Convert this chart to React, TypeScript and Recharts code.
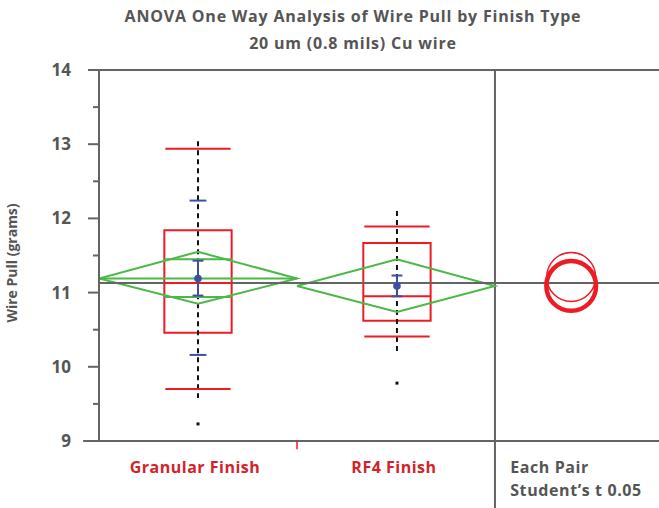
import {
  ComposedChart,
  XAxis,
  YAxis,
  Line,
  Scatter,
  ReferenceLine,
  ReferenceArea,
} from 'recharts';

// ---- data ----
const groups = ['Granular Finish', 'RF4 Finish'];
const groupX = [1, 3.01];
const groupBounds = [
  [0, 2],
  [2, 4],
];

const pointsTop = [13.04, 12.1];
const pointsBottom = [9.58, 10.17];
const outliers = [9.23, 9.78];
const whiskerHigh = [12.94, 11.89];
const q3 = [11.84, 11.67];
const median = [11.13, 10.95];
const q1 = [10.46, 10.62];
const whiskerLow = [9.7, 10.41];

const means = [11.19, 11.09];
const showMeanLine = [true, false];
const ciUpper = [11.55, 11.45];
const ciLower = [10.85, 10.74];
const overlapHigh = [11.45, null];
const overlapLow = [10.94, null];
const stdErrHigh = [11.43, 11.23];
const stdErrLow = [10.96, 10.95];
const stdDevHigh = [12.24, null];
const stdDevLow = [10.16, null];

const grandMean = 11.13;
const circleCenters = [11.21, 11.09];
const circleRadii = [0.33, 0.335];
const circleWidths = [1.5, 4.5];

const yTicks = [9, 9.5, 10, 10.5, 11, 11.5, 12, 12.5, 13, 13.5, 14];
const xLabelTicks = [1, 3.01, 4.77];

// ---- layout ----
const W = 659;
const H = 508;
const TOP = 70;
const Y_AXIS_W = 99;
const X_AXIS_H = 67;
const Y_MIN = 9;
const Y_MAX = 14;
const X_MAX = 5.657; // 0..4 groups, 4..5.657 comparison circles
const CIRCLE_X = 4.77;
const PX_PER_Y = (H - TOP - X_AXIS_H) / (Y_MAX - Y_MIN);

const RED = '#ed1c24';
const GREEN = '#4cb848';
const BLUE = '#3d4f9f';
const GRAY = '#646464';
const TEXT = '#555555';
const LABEL_RED = '#d2232a';
const FONT = '"Open Sans", Lato, sans-serif';

function YTick({ x, y, payload }: any) {
  const v = payload.value;
  const major = Number.isInteger(v);
  return (
    <g>
      <line x1={x - (major ? 11 : 6)} x2={x} y1={y} y2={y} stroke={GRAY} strokeWidth={2} />
      {major && (
        <text x={x - 28} y={y} dy={6} textAnchor="end" fill={TEXT} fontFamily={FONT} fontWeight={700} fontSize={17}>
          {v}
        </text>
      )}
    </g>
  );
}

function XTick({ x, y, index }: any) {
  if (index < groups.length) {
    return (
      <text
        x={x - 3}
        y={y + 32}
        textAnchor="middle"
        fill={LABEL_RED}
        fontFamily={FONT}
        fontWeight={700}
        fontSize={16}
        letterSpacing={0.5}
      >
        {groups[index]}
      </text>
    );
  }
  return (
    <text
      x={x - 61}
      y={y + 32}
      textAnchor="start"
      fill={TEXT}
      fontFamily={FONT}
      fontWeight={700}
      fontSize={16}
      letterSpacing={0.6}
    >
      <tspan x={x - 61}>Each Pair</tspan>
      <tspan x={x - 61} dy={23}>Student’s t 0.05</tspan>
    </text>
  );
}

function diamond(i: number) {
  const [lo, hi] = groupBounds[i];
  return [
    { x: lo, y: means[i] },
    { x: groupX[i], y: ciUpper[i] },
    { x: hi, y: means[i] },
    { x: groupX[i], y: ciLower[i] },
    { x: lo, y: means[i] },
  ];
}

const seg = (x1: number, y1: number, x2: number, y2: number) => [
  { x: x1, y: y1 },
  { x: x2, y: y2 },
];

export default function App() {
  const circleShape = (i: number) => (p: any) => (
    <circle
      cx={p.cx}
      cy={p.cy}
      r={circleRadii[i] * PX_PER_Y}
      fill="none"
      stroke={RED}
      strokeWidth={circleWidths[i]}
    />
  );

  return (
    <div style={{ position: 'absolute', left: 0, top: 0, width: W, height: H, background: '#fff' }}>
      <div
        style={{
          position: 'absolute',
          left: 0,
          width: 706,
          top: 3,
          textAlign: 'center',
          fontFamily: FONT,
          fontWeight: 700,
          fontSize: 16,
          letterSpacing: 0.8,
          color: TEXT,
          lineHeight: '27px',
        }}
      >
        ANOVA One Way Analysis of Wire Pull by Finish Type
        <br />
        20 um (0.8 mils) Cu wire
      </div>
      <div
        style={{
          position: 'absolute',
          left: 11,
          top: 263,
          transform: 'translate(-50%, -50%) rotate(-90deg)',
          whiteSpace: 'nowrap',
          fontFamily: FONT,
          fontWeight: 700,
          fontSize: 14,
          color: TEXT,
        }}
      >
        Wire Pull (grams)
      </div>
      <ComposedChart width={W} height={H} margin={{ top: TOP, right: 0, bottom: 0, left: 0 }}>
        <XAxis
          type="number"
          dataKey="x"
          domain={[0, X_MAX]}
          ticks={xLabelTicks}
          tick={<XTick />}
          tickLine={false}
          axisLine={false}
          tickSize={0}
          tickMargin={0}
          height={X_AXIS_H}
          allowDataOverflow
        />
        <YAxis
          type="number"
          dataKey="y"
          domain={[Y_MIN, Y_MAX]}
          ticks={yTicks}
          tick={<YTick />}
          tickLine={false}
          tickSize={0}
          tickMargin={0}
          width={Y_AXIS_W}
          axisLine={{ stroke: GRAY, strokeWidth: 2 }}
          interval={0}
          allowDataOverflow
        />

        {/* frame */}
        <ReferenceLine segment={seg(-0.11, Y_MAX, X_MAX, Y_MAX)} stroke={GRAY} strokeWidth={2} ifOverflow="visible" />
        <ReferenceLine segment={seg(-0.16, Y_MIN, X_MAX, Y_MIN)} stroke={GRAY} strokeWidth={2} ifOverflow="visible" />
        <ReferenceLine segment={seg(4, Y_MAX, 4, 8.09)} stroke={GRAY} strokeWidth={2} ifOverflow="visible" />
        <ReferenceLine segment={seg(2, Y_MIN, 2, 8.89)} stroke={RED} strokeWidth={1.5} ifOverflow="visible" />

        {/* raw points column */}
        {groupX.map((gx, i) => (
          <ReferenceLine
            key={`pts${i}`}
            segment={seg(gx, pointsTop[i], gx, pointsBottom[i])}
            stroke="#111"
            strokeWidth={2}
            strokeDasharray="5 4"
          />
        ))}
        <Scatter
          data={groupX.map((gx, i) => ({ x: gx, y: outliers[i] }))}
          isAnimationActive={false}
          shape={(p: any) => <rect x={p.cx - 1.5} y={p.cy - 1.5} width={3} height={3} fill="#111" />}
        />

        {/* means diamonds */}
        {groupX.map((gx, i) => (
          <Line
            key={`dia${i}`}
            data={diamond(i)}
            dataKey="y"
            type="linear"
            stroke={GREEN}
            strokeWidth={2}
            dot={false}
            activeDot={false}
            isAnimationActive={false}
          />
        ))}
        {groupX.map((gx, i) =>
          showMeanLine[i] ? (
            <ReferenceLine
              key={`ml${i}`}
              segment={seg(groupBounds[i][0], means[i], groupBounds[i][1], means[i])}
              stroke={GREEN}
              strokeWidth={2}
            />
          ) : null,
        )}
        {groupX.map((gx, i) =>
          overlapHigh[i] == null ? null : (
            <ReferenceLine
              key={`oh${i}`}
              segment={seg(gx - 0.34, overlapHigh[i] as number, gx + 0.34, overlapHigh[i] as number)}
              stroke={GREEN}
              strokeWidth={2}
            />
          ),
        )}
        {groupX.map((gx, i) =>
          overlapLow[i] == null ? null : (
            <ReferenceLine
              key={`ol${i}`}
              segment={seg(gx - 0.34, overlapLow[i] as number, gx + 0.34, overlapLow[i] as number)}
              stroke={GREEN}
              strokeWidth={2}
            />
          ),
        )}

        {/* grand mean */}
        <ReferenceLine y={grandMean} stroke={GRAY} strokeWidth={2} />

        {/* box plots */}
        {groupX.map((gx, i) => (
          <ReferenceArea
            key={`box${i}`}
            x1={gx - 0.34}
            x2={gx + 0.34}
            y1={q1[i]}
            y2={q3[i]}
            fill="none"
            fillOpacity={0}
            stroke={RED}
            strokeWidth={2}
          />
        ))}
        {groupX.map((gx, i) => (
          <ReferenceLine key={`med${i}`} segment={seg(gx - 0.34, median[i], gx + 0.34, median[i])} stroke={RED} strokeWidth={2} />
        ))}
        {groupX.map((gx, i) => (
          <ReferenceLine key={`wh${i}`} segment={seg(gx - 0.33, whiskerHigh[i], gx + 0.33, whiskerHigh[i])} stroke={RED} strokeWidth={2} />
        ))}
        {groupX.map((gx, i) => (
          <ReferenceLine key={`wl${i}`} segment={seg(gx - 0.33, whiskerLow[i], gx + 0.33, whiskerLow[i])} stroke={RED} strokeWidth={2} />
        ))}

        {/* std error bars and std dev marks */}
        {groupX.map((gx, i) => (
          <ReferenceLine key={`se${i}`} segment={seg(gx, stdErrHigh[i], gx, stdErrLow[i])} stroke={BLUE} strokeWidth={2} />
        ))}
        {groupX.map((gx, i) => (
          <ReferenceLine key={`seh${i}`} segment={seg(gx - 0.055, stdErrHigh[i], gx + 0.055, stdErrHigh[i])} stroke={BLUE} strokeWidth={2} />
        ))}
        {groupX.map((gx, i) => (
          <ReferenceLine key={`sel${i}`} segment={seg(gx - 0.055, stdErrLow[i], gx + 0.055, stdErrLow[i])} stroke={BLUE} strokeWidth={2} />
        ))}
        {groupX.map((gx, i) =>
          stdDevHigh[i] == null ? null : (
            <ReferenceLine
              key={`sdh${i}`}
              segment={seg(gx - 0.085, stdDevHigh[i] as number, gx + 0.085, stdDevHigh[i] as number)}
              stroke={BLUE}
              strokeWidth={2}
            />
          ),
        )}
        {groupX.map((gx, i) =>
          stdDevLow[i] == null ? null : (
            <ReferenceLine
              key={`sdl${i}`}
              segment={seg(gx - 0.085, stdDevLow[i] as number, gx + 0.085, stdDevLow[i] as number)}
              stroke={BLUE}
              strokeWidth={2}
            />
          ),
        )}
        <Scatter
          data={groupX.map((gx, i) => ({ x: gx, y: means[i] }))}
          isAnimationActive={false}
          shape={(p: any) => <circle cx={p.cx} cy={p.cy} r={3.8} fill={BLUE} />}
        />

        {/* comparison circles */}
        {circleCenters.map((c, i) => (
          <Scatter
            key={`cc${i}`}
            data={[{ x: CIRCLE_X, y: c }]}
            isAnimationActive={false}
            shape={circleShape(i)}
          />
        ))}
      </ComposedChart>
    </div>
  );
}
